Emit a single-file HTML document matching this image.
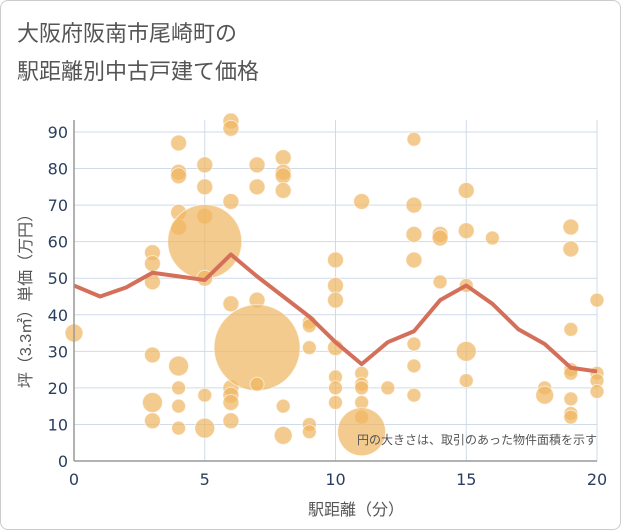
<!DOCTYPE html>
<html><head><meta charset="utf-8"><style>
body{margin:0;background:#fff;font-family:"Liberation Sans","Noto Sans CJK JP",sans-serif}
#wrap{position:relative;width:619px;height:528px;border:1px solid #ccc;border-radius:8px;overflow:hidden;background:#fff}
</style></head><body>
<div id="wrap">
<svg id="c" width="621" height="530">
<text x="16" y="40" font-size="22" fill="#555">大阪府阪南市尾崎町の</text>
<text x="16" y="78" font-size="22" fill="#555">駅距離別中古戸建て価格</text>
<g id="grid"></g><g id="bub"></g><g id="ln"></g><g id="ax"></g>
<text x="596" y="443" font-size="12" fill="#555" text-anchor="end">円の大きさは、取引のあった物件面積を示す</text>
<text x="355" y="514" font-size="16" fill="#555" text-anchor="middle">駅距離（分）</text>
<text transform="translate(30,296) rotate(-90)" font-size="16" fill="#555" text-anchor="middle">坪（3.3㎡）単価（万円）</text>
</svg></div>
<script>
const xTicks=[0,5,10,15,20];
const yTicks=[0,10,20,30,40,50,60,70,80,90];
const lineX=[0,1,2,3,4,5,6,7,8,9,10,11,12,13,14,15,16,17,18,19,20];
const lineY=[48,45,47.5,51.5,50.5,49.5,56.5,50.5,45,39.5,32.5,26.5,32.5,35.5,44,48,43,36,32,25.5,24.5];
const bubX=[0,3,3,3,3,3,3,4,4,4,4,4,4,4,4,4,5,5,5,5,5,5,5,6,6,6,6,6,6,6,6,7,7,7,7,7,8,8,8,8,8,8,9,9,9,9,9,10,10,10,10,10,10,10,11,11,11,11,11,11,11,12,13,13,13,13,13,13,13,14,14,14,15,15,15,15,15,16,18,18,19,19,19,19,19,19,19,19,20,20,20,20];
const bubY=[35,57,54,49,29,16,11,87,79,78,68,64,26,20,15,9,81,75,67,60,50,18,9,93,91,71,43,20,18,16,11,81,75,44,31,21,83,79,78,74,15,7,38,37,31,10,8,55,48,44,31,23,20,16,71,24,21,20,16,12,8,20,88,70,62,55,32,26,18,62,61,49,74,63,48,30,22,61,20,18,64,58,36,25,24,17,13,12,44,24,22,19];
const bubR=[9,8,8,8,8,10,8,8,8,8,8,8,10,7,7,7,8,8,8,37,8,7,10,8,8,8,8,8,8,8,8,8,8,8,43,7,8,8,8,8,7,9,7,7,7,7,7,8,8,8,8,7,7,7,8,7,7,7,7,7,24,7,7,8,8,8,7,7,7,8,8,7,8,8,7,10,7,7,7,9,8,8,7,7,7,7,7,7,7,7,7,7];
const X0=73,X1=596,Y0=460,Y1=131;
const sx=v=>X0+(X1-X0)*v/20, sy=v=>Y0-(Y0-Y1)*v/90;
const NS='http://www.w3.org/2000/svg';
function mk(t,a,p){const e=document.createElementNS(NS,t);for(const k in a)e.setAttribute(k,a[k]);p.appendChild(e);return e;}
const grid=document.getElementById('grid'),ax=document.getElementById('ax');
yTicks.forEach(v=>{const l=mk('line',{x1:X0,x2:X1,y1:sy(v),y2:sy(v),stroke:'#cfdbe9','stroke-width':1},grid);

const t=mk('text',{x:X0-6,y:sy(v)+6,'font-size':16,'font-family':'DejaVu Sans, sans-serif',fill:'#2a3f5f','text-anchor':'end'},ax);t.textContent=v;
});
xTicks.forEach(v=>{const l=mk('line',{x1:sx(v),x2:sx(v),y1:Y1-12,y2:Y0,stroke:'#cfdbe9','stroke-width':1},grid);

const t=mk('text',{x:sx(v),y:Y0+24,'font-size':16,'font-family':'DejaVu Sans, sans-serif',fill:'#2a3f5f','text-anchor':'middle'},ax);t.textContent=v;
});
const a1=mk('line',{x1:X0,x2:X1,y1:Y0,y2:Y0,stroke:'#999','stroke-width':1.5},ax);

const a2=mk('line',{x1:X0,x2:X0,y1:Y1-12,y2:Y0,stroke:'#999','stroke-width':1.5},ax);

const bub=document.getElementById('bub');
bubX.forEach((x,i)=>{const c=mk('circle',{cx:sx(x),cy:sy(bubY[i]),r:bubR[i],fill:'#f0b560','fill-opacity':0.7,stroke:'#fff','stroke-opacity':0.6,'stroke-width':1},bub);
});
const p=mk('polyline',{points:lineX.map((x,i)=>sx(x)+','+sy(lineY[i])).join(' '),fill:'none',stroke:'#d4705a','stroke-width':4,'stroke-linejoin':'round'},document.getElementById('ln'));

</script></body></html>
